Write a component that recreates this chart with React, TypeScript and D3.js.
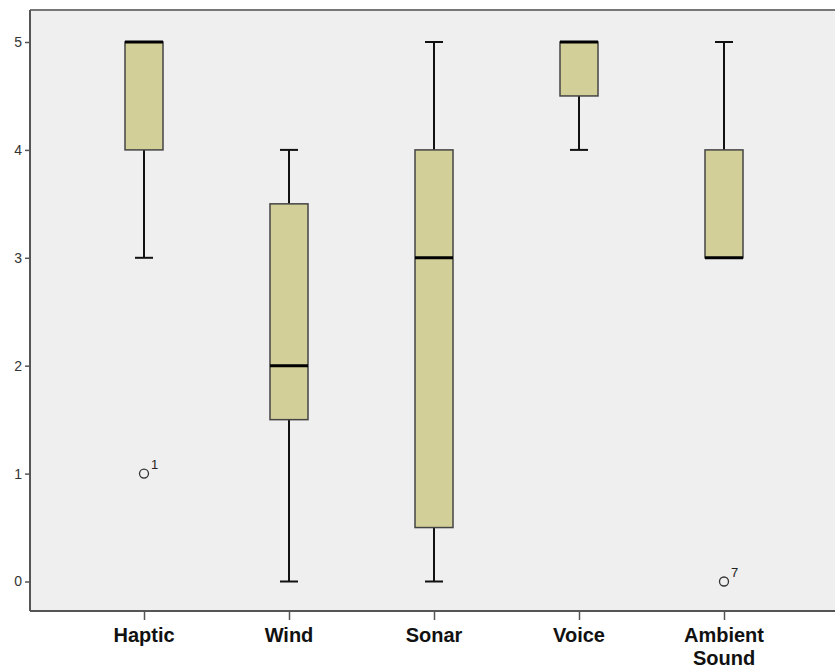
import React, { useEffect, useRef } from "react";
import * as d3 from "d3";

const categories = ["Haptic", "Wind", "Sonar", "Voice", "Ambient Sound"];
const whiskerLow = [3, 0, 0, 4, 3];
const q1 = [4, 1.5, 0.5, 4.5, 3];
const median = [5, 2, 3, 5, 3];
const q3 = [5, 3.5, 4, 5, 4];
const whiskerHigh = [5, 4, 5, 5, 5];
const outliers = [
  { cat: "Haptic", value: 1, label: "1" },
  { cat: "Ambient Sound", value: 0, label: "7" },
];
const yTicks = [0, 1, 2, 3, 4, 5];

export default function App() {
  const ref = useRef<SVGSVGElement>(null);

  useEffect(() => {
    if (!ref.current) return;
    document.body.style.margin = "0";
    document.body.style.overflow = "hidden";
    const svg = d3.select(ref.current);
    svg.selectAll("*").remove();

    const W = 835;
    const H = 670;
    const left = 30;
    const top = 10;
    const bottom = 611;

    const x = d3.scalePoint<string>().domain(categories).range([144, 724]);
    const y = d3.scaleLinear().domain([0, 5]).range([581.5, 42]);
    const boxW = 38;
    const capW = 18;

    svg.attr("width", W).attr("height", H);

    // plot background
    svg.append("rect")
      .attr("x", left).attr("y", top)
      .attr("width", W - left).attr("height", bottom - top)
      .attr("fill", "#efefef");

    // frame
    svg.append("line").attr("x1", left).attr("x2", W).attr("y1", top).attr("y2", top)
      .attr("stroke", "#777").attr("stroke-width", 2);

    const data = categories.map((c, i) => ({
      cat: c, lo: whiskerLow[i], q1: q1[i], med: median[i], q3: q3[i], hi: whiskerHigh[i],
    }));

    const g = svg.append("g");

    data.forEach(d => {
      const cx = x(d.cat)!;
      // whiskers
      g.append("line").attr("x1", cx).attr("x2", cx).attr("y1", y(d.q3)).attr("y2", y(d.hi))
        .attr("stroke", "#111").attr("stroke-width", 2);
      g.append("line").attr("x1", cx).attr("x2", cx).attr("y1", y(d.q1)).attr("y2", y(d.lo))
        .attr("stroke", "#111").attr("stroke-width", 2);
      [d.lo, d.hi].forEach(v => {
        g.append("line").attr("x1", cx - capW / 2).attr("x2", cx + capW / 2)
          .attr("y1", y(v)).attr("y2", y(v))
          .attr("stroke", "#111").attr("stroke-width", 2);
      });
      // box
      g.append("rect")
        .attr("x", cx - boxW / 2).attr("y", y(d.q3))
        .attr("width", boxW).attr("height", Math.max(0, y(d.q1) - y(d.q3)))
        .attr("fill", "#d3cf98").attr("stroke", "#444").attr("stroke-width", 1.5);
      // median
      g.append("line").attr("x1", cx - boxW / 2).attr("x2", cx + boxW / 2)
        .attr("y1", y(d.med)).attr("y2", y(d.med))
        .attr("stroke", "#000").attr("stroke-width", 3);
    });

    // outliers
    outliers.forEach(o => {
      const cx = x(o.cat)!;
      g.append("circle").attr("cx", cx).attr("cy", y(o.value)).attr("r", 4.5)
        .attr("fill", "none").attr("stroke", "#333").attr("stroke-width", 1.3);
      g.append("text").attr("x", cx + 7).attr("y", y(o.value) - 5)
        .attr("font-family", "Liberation Sans, Arial, sans-serif").attr("font-size", 13)
        .attr("fill", "#222").text(o.label);
    });

    // y axis
    const yAxis = svg.append("g").attr("transform", `translate(${left},0)`)
      .call(d3.axisLeft(y).tickValues(yTicks).tickFormat(d3.format("d")).tickSize(5).tickPadding(3));
    yAxis.select(".domain").remove();
    yAxis.selectAll("line").attr("stroke", "#555").attr("stroke-width", 1.5);
    yAxis.selectAll("text").attr("font-family", "Liberation Sans, Arial, sans-serif")
      .attr("font-size", 14).attr("fill", "#333");
    svg.append("line").attr("x1", left).attr("x2", left).attr("y1", top).attr("y2", bottom)
      .attr("stroke", "#555").attr("stroke-width", 2);

    // x axis
    const xAxis = svg.append("g").attr("transform", `translate(0,${bottom})`)
      .call(d3.axisBottom(x).tickSize(9).tickFormat(() => ""));
    xAxis.select(".domain").remove();
    xAxis.selectAll("line").attr("stroke", "#555").attr("stroke-width", 1.5);
    svg.append("line").attr("x1", left).attr("x2", W).attr("y1", bottom).attr("y2", bottom)
      .attr("stroke", "#555").attr("stroke-width", 2);

    categories.forEach(c => {
      const words = c.split(" ");
      const t = svg.append("text").attr("x", x(c)!).attr("y", 642)
        .attr("text-anchor", "middle")
        .attr("font-family", "Liberation Sans, Arial, sans-serif")
        .attr("font-size", 20).attr("font-weight", "bold").attr("fill", "#111");
      words.forEach((w, i) => {
        t.append("tspan").attr("x", x(c)!).attr("dy", i === 0 ? 0 : 23).text(w);
      });
    });
  }, []);

  return <svg ref={ref} style={{ display: "block" }} />;
}
